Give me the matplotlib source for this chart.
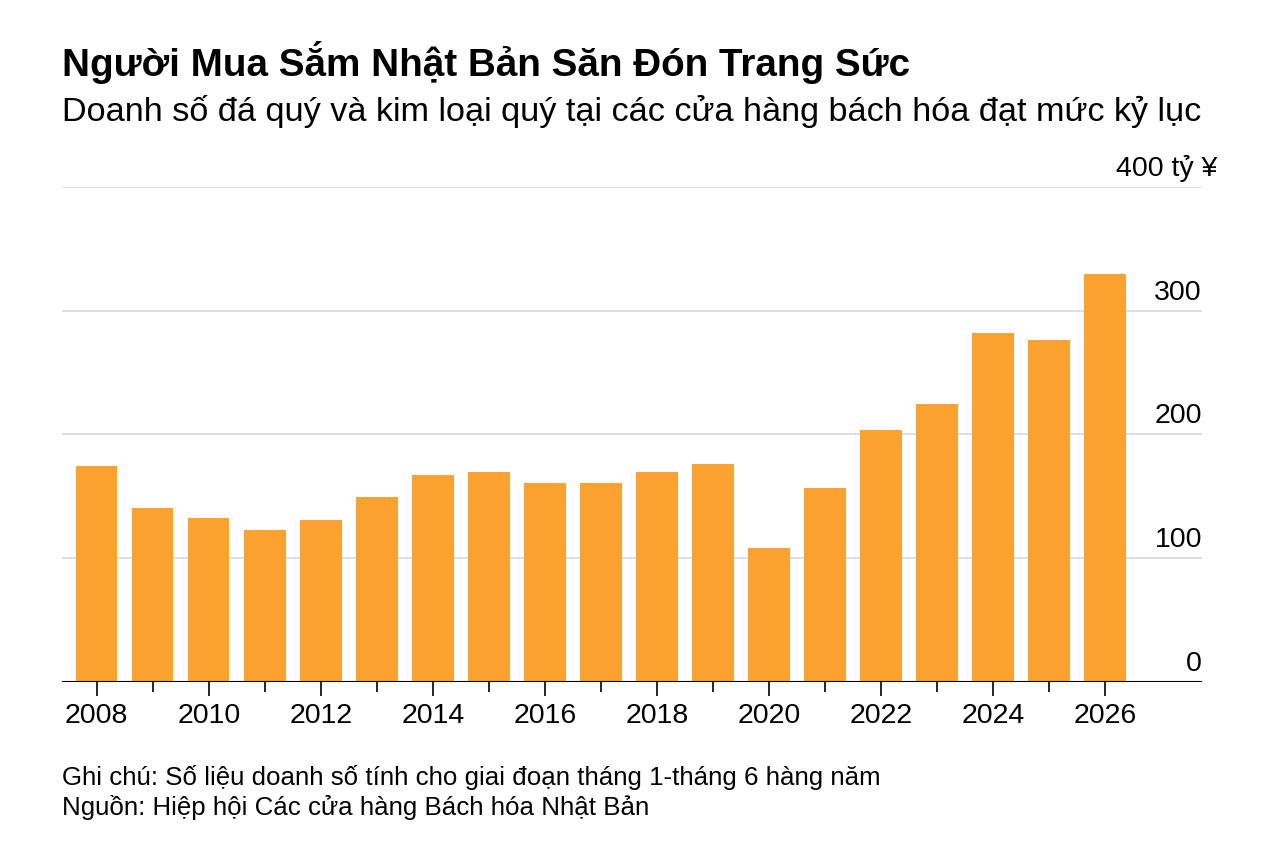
import matplotlib
matplotlib.use("Agg")
import matplotlib.pyplot as plt
from matplotlib.transforms import offset_copy

plt.rcParams['font.family'] = ['Liberation Sans', 'DejaVu Sans']

years = list(range(2008, 2027))
values = [174.5, 140.6, 132.5, 122.8, 130.9, 149.5, 167.3, 169.7, 160.8, 160.8,
          169.7, 176.2, 108.3, 156.8, 203.6, 224.6, 282.0, 276.4, 329.7]
y_ticks = [0, 100, 200, 300, 400]
y_labels = ["0", "100", "200", "300", "400 tỷ ¥"]
x_major = list(range(2008, 2027, 2))
x_minor = list(range(2009, 2026, 2))

title = "Người Mua Sắm Nhật Bản Săn Đón Trang Sức"
subtitle = "Doanh số đá quý và kim loại quý tại các cửa hàng bách hóa đạt mức kỷ lục"
note = "Ghi chú: Số liệu doanh số tính cho giai đoạn tháng 1-tháng 6 hàng năm"
source = "Nguồn: Hiệp hội Các cửa hàng Bách hóa Nhật Bản"

W, H = 1264, 844
fig = plt.figure(figsize=(W / 100, H / 100), dpi=100)
fig.patch.set_facecolor('white')

left, right, top, bottom = 62, 1202, 187, 682
ax = fig.add_axes([left / W, (H - bottom) / H, (right - left) / W, (bottom - top) / H])

ax.bar(years, values, width=0.74, color='#FAA130', zorder=2)
ax.set_xlim(2007.38, 2027.73)
ax.set_ylim(0, 400)

for s in ax.spines.values():
    s.set_visible(False)
ax.axhline(0, color='black', lw=1.5, zorder=3)
for t in y_ticks[1:]:
    ax.axhline(t, color='#d9d9d9', lw=1.2, zorder=1)

ax.set_yticks([])
ax.set_xticks(x_major)
ax.set_xticklabels([str(y) for y in x_major], fontsize=20.5)
ax.set_xticks(x_minor, minor=True)
ax.tick_params(axis='x', which='major', length=10, width=1.2, color='black', pad=5)
ax.tick_params(axis='x', which='minor', length=7, width=1.2, color='black')

ytr = ax.get_yaxis_transform()
for t, lab in zip(y_ticks, y_labels):
    dx = 15 if t == 400 else 0
    tr = offset_copy(ytr, fig=fig, x=dx * 0.72, y=5 * 0.72, units='points')
    ax.text(1.0, t, lab, transform=tr, ha='right', va='bottom',
            fontsize=20.5, color='black')

fig.text(left / W, 1 - 62 / H, title, fontsize=27.8, fontweight='bold', ha='left', va='center')
fig.text(left / W, 1 - 112 / H, subtitle, fontsize=24.7, ha='left', va='center')
fig.text(left / W, 1 - 778 / H, note, fontsize=18.6, ha='left', va='center')
fig.text(left / W, 1 - 808 / H, source, fontsize=18.6, ha='left', va='center')

fig.savefig('out.png', dpi=100, facecolor='white')
